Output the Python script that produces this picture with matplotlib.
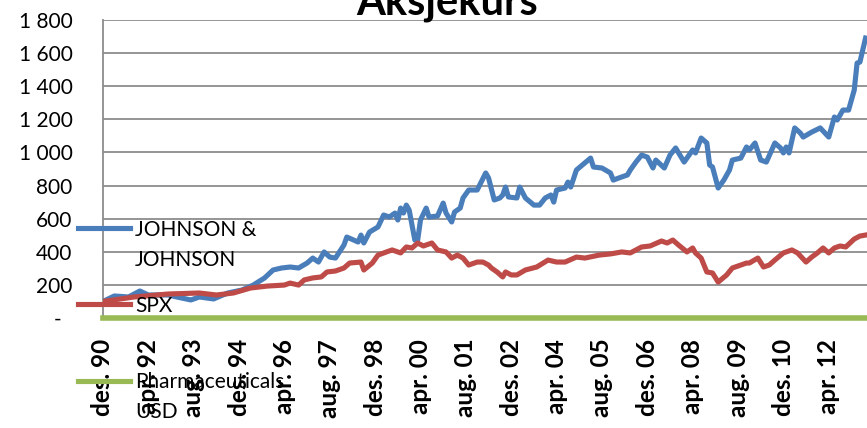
import matplotlib
matplotlib.use('Agg')
import matplotlib.pyplot as plt
from matplotlib.lines import Line2D
from matplotlib.ticker import FixedLocator, FuncFormatter

plt.rcParams['font.family'] = ['Lato', 'DejaVu Sans']

# måneder fra des. 90 (0) og avlest verdi
jnj_months = [0, 4, 9, 13, 16, 23, 26, 31, 34, 39, 44, 49, 53, 57, 60, 63, 66, 69, 72, 74,
              76, 78, 80, 82, 85, 86, 90, 91, 92, 94, 97, 99, 101, 103, 104, 105, 106, 107, 108, 110,
              111, 112, 114, 115, 118, 120, 121, 123, 124, 126, 127, 129, 132, 135, 136, 138, 140, 141, 142, 143,
              146, 147, 149, 152, 154, 156, 158, 159, 160, 163, 164, 165, 167, 172, 173, 176, 179, 180, 182, 185,
              186, 188, 190, 192, 194, 195, 198, 200, 202, 205, 208, 209, 211, 213, 214, 215, 217, 219, 221, 222,
              225, 227, 228, 230, 232, 234, 237, 239, 240, 241, 242, 244, 246, 247, 250, 253, 256, 258, 259, 261,
              263, 265, 266, 267, 269]
jnj_values = [100, 133, 127, 163, 139, 139, 127, 109, 127, 115, 151, 169, 199, 242, 290, 302, 308, 302, 332, 362,
              338, 399, 368, 362, 441, 489, 459, 501, 453, 519, 550, 622, 610, 634, 592, 664, 634, 682, 652, 471,
              471, 592, 664, 610, 616, 694, 634, 580, 640, 664, 725, 773, 773, 876, 846, 713, 725, 743, 791, 731,
              725, 791, 725, 682, 682, 725, 743, 700, 773, 785, 821, 791, 894, 966, 912, 906, 876, 833, 846, 864,
              894, 942, 984, 972, 906, 954, 906, 984, 1027, 942, 1015, 997, 1087, 1057, 924, 912, 785, 833, 894, 954,
              966, 1033, 1015, 1057, 954, 942, 1057, 1027, 997, 1033, 997, 1148, 1117, 1093, 1123, 1148, 1093, 1214, 1196, 1256,
              1256, 1377, 1540, 1546, 1691]

spx_months = [0, 11, 23, 34, 40, 46, 52, 58, 64, 66, 69, 71, 74, 77, 79, 82, 85, 87, 91, 92,
              95, 97, 100, 102, 105, 107, 109, 111, 113, 116, 118, 121, 123, 125, 127, 129, 132, 134, 136, 137,
              139, 141, 142, 144, 146, 149, 153, 157, 160, 163, 167, 170, 175, 179, 183, 186, 190, 193, 197, 199,
              201, 203, 206, 208, 209, 211, 213, 215, 217, 220, 222, 225, 227, 228, 231, 233, 235, 237, 240, 243,
              245, 248, 250, 252, 254, 256, 258, 260, 262, 265, 267, 269]
spx_values = [100, 127, 145, 151, 139, 151, 181, 193, 199, 211, 199, 230, 242, 248, 278, 284, 302, 332, 338, 290,
              332, 380, 399, 411, 393, 429, 423, 453, 435, 453, 411, 399, 362, 380, 362, 320, 338, 338, 320, 302,
              278, 248, 278, 260, 260, 290, 308, 350, 338, 338, 368, 362, 380, 387, 399, 393, 429, 435, 465, 453,
              471, 441, 399, 423, 393, 362, 278, 272, 217, 260, 302, 320, 332, 332, 362, 308, 320, 350, 393, 411,
              393, 338, 368, 393, 423, 393, 423, 435, 429, 477, 495, 501]

pharma_months = [0, 269]
pharma_values = [0, 0]

tick_months = [0, 16, 32, 48, 64, 80, 96, 112, 128, 144, 160, 176, 192, 208, 224, 240, 256]
tick_labels = ['des. 90', 'apr. 92', 'aug. 93', 'des. 94', 'apr. 96', 'aug. 97', 'des. 98', 'apr. 00',
               'aug. 01', 'des. 02', 'apr. 04', 'aug. 05', 'des. 06', 'apr. 08', 'aug. 09', 'des. 10', 'apr. 12']

BLUE = '#4a7ebb'
RED = '#be4b48'
GREEN = '#98b954'
GRID = '#8c8c8c'

W, H = 867, 428
fig = plt.figure(figsize=(W / 100, H / 100), dpi=100)
ax = fig.add_axes([103 / W, 1 - 318 / H, 1 - 103 / W, (318 - 20) / H])

ax.plot(jnj_months, jnj_values, color=BLUE, lw=3.7, solid_joinstyle='round', zorder=3)
ax.plot(spx_months, spx_values, color=RED, lw=3.7, solid_joinstyle='round', zorder=3)
ax.plot(pharma_months, pharma_values, color=GREEN, lw=4, clip_on=False, zorder=4)

ax.set_xlim(0, 269.5)
ax.set_ylim(0, 1800)
ax.yaxis.set_major_locator(FixedLocator(range(0, 1801, 200)))
ax.yaxis.set_major_formatter(FuncFormatter(
    lambda v, p: '-  ' if v == 0 else f'{v:,.0f}'.replace(',', ' ')))
ax.set_xticks(tick_months)
ax.set_xticklabels(tick_labels, rotation=90, fontweight='bold', fontsize=17.5, va='top')
ax.tick_params(axis='y', length=0, pad=22, labelsize=15)
ax.tick_params(axis='x', length=0, pad=15)

ax.grid(axis='y', color=GRID, lw=1.3, zorder=1)
ax.set_axisbelow(True)
for s in ['top', 'right']:
    ax.spines[s].set_visible(False)
ax.spines['left'].set_color(GRID)
ax.spines['left'].set_linewidth(1.3)
ax.spines['bottom'].set_color(GRID)

# tittel (delvis utenfor bildet som i originalen)
fig.text(447 / W, 1 - 14 / H, 'Aksjekurs', ha='center', va='baseline',
         fontsize=30, fontweight='bold')

# forklaring, plassert som i Excel-figuren
def px(x, y):
    return x / W, 1 - y / H

legend_rows = [
    (BLUE, 228, ['JOHNSON &', 'JOHNSON']),
    (RED, 304, ['SPX']),
    (GREEN, 381, ['Pharmaceuticals', 'USD']),
]
for color, y, lines in legend_rows:
    x0, yy = px(78, y)
    x1, _ = px(130, y)
    fig.add_artist(Line2D([x0, x1], [yy, yy], color=color, lw=3.7, transform=fig.transFigure))
    for k, txt in enumerate(lines):
        tx, ty = px(135, y + 7.5 + 30 * k)
        fig.text(tx, ty, txt, ha='left', va='baseline', fontsize=15)

fig.savefig('out.png', dpi=100)
